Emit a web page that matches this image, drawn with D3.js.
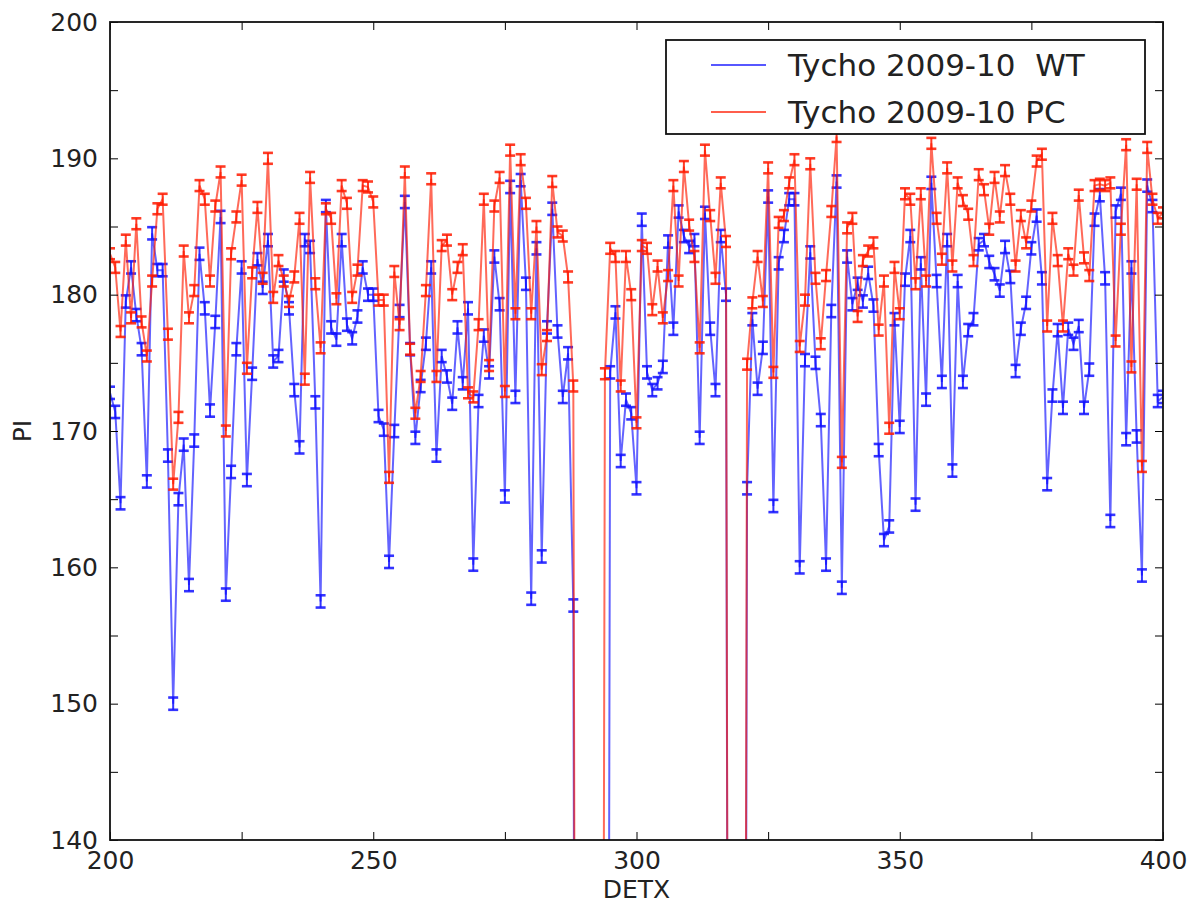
<!DOCTYPE html>
<html>
<head>
<meta charset="utf-8">
<script src="https://cdn.jsdelivr.net/npm/d3@7"></script>
<style>
  body { margin: 0; background: #fff; }
  svg text { font-family: "DejaVu Sans", sans-serif; }
</style>
</head>
<body>
<svg id="chart" width="1193" height="904"></svg>
<script>
// DETX channels 200..400
const detx = d3.range(200, 401);

// PI per DETX, WT mode (0 = no data)
const piWT = [
  172.8, 171.4, 164.7, 179.5, 182.0, 178.5, 176.0, 166.3, 184.5, 181.8,
  181.8, 168.2, 150.0, 165.0, 169.0, 158.7, 169.3, 183.0, 179.0, 171.5,
  178.0, 185.7, 158.0, 167.0, 176.0, 182.0, 166.4, 174.2, 182.6, 180.5,
  184.0, 175.1, 175.5, 181.4, 179.0, 173.0, 168.8, 184.0, 183.5, 172.1,
  157.5, 186.5, 177.6, 176.7, 184.0, 177.8, 176.8, 178.4, 182.0, 180.0,
  180.0, 171.1, 170.1, 160.4, 170.0, 178.8, 186.8, 176.0, 169.5, 173.3,
  176.4, 182.0, 168.2, 175.5, 174.0, 172.0, 177.6, 173.5, 179.0, 160.2,
  172.2, 177.0, 174.3, 182.8, 179.3, 165.2, 187.9, 172.5, 188.4, 180.8,
  157.7, 183.4, 160.8, 177.6, 186.3, 177.3, 172.5, 175.7, 157.2, 0,
  0, 0, 0, 0, 0, 174.3, 178.7, 167.8, 172.3, 171.3,
  165.8, 185.5, 174.3, 173.0, 173.5, 174.7, 183.9, 177.5, 186.1, 184.3,
  183.5, 184.0, 169.5, 186.0, 177.5, 173.0, 184.3, 180.0, 0, 0,
  0, 165.8, 178.2, 173.1, 176.1, 187.2, 164.5, 182.3, 184.3, 187.0,
  187.0, 160.0, 175.2, 183.1, 175.0, 170.8, 160.2, 178.8, 188.3, 158.5,
  182.8, 179.3, 180.8, 179.5, 181.6, 179.2, 168.6, 162.0, 163.0, 178.2,
  170.3, 181.1, 184.3, 164.6, 182.3, 172.3, 188.2, 181.0, 173.6, 184.0,
  167.1, 181.0, 173.6, 177.4, 178.2, 183.7, 184.0, 182.4, 181.5, 180.3,
  183.5, 181.3, 174.4, 177.5, 179.4, 183.4, 185.8, 181.2, 166.1, 172.6,
  177.4, 171.7, 177.5, 176.4, 177.7, 171.7, 174.5, 185.5, 187.3, 181.2,
  163.4, 186.1, 187.4, 169.4, 182.0, 169.6, 159.4, 188.0, 186.5, 172.2,
  172.5
];

// PI per DETX, PC mode (0 = no data)
const piPC = [
  183.0, 182.0, 177.3, 184.0, 178.3, 185.2, 178.0, 175.5, 181.0, 186.3,
  187.0, 177.1, 166.1, 171.0, 183.2, 178.3, 180.3, 188.0, 187.0, 181.0,
  186.5, 189.0, 170.0, 183.0, 185.7, 188.4, 174.6, 181.6, 186.4, 181.2,
  190.0, 179.8, 182.5, 181.0, 179.5, 181.3, 185.6, 173.8, 188.6, 180.8,
  176.1, 186.3, 185.6, 179.7, 188.0, 186.7, 179.8, 181.8, 188.0, 187.9,
  186.8, 179.6, 179.6, 166.6, 181.7, 177.8, 189.0, 176.0, 171.3, 174.0,
  180.3, 188.5, 174.0, 183.6, 184.0, 180.0, 182.0, 183.3, 172.8, 172.5,
  177.8, 187.0, 174.8, 186.5, 188.6, 172.9, 190.6, 178.6, 189.9, 186.7,
  178.6, 185.0, 174.5, 177.0, 188.3, 184.6, 184.3, 181.3, 173.3, 0,
  0, 0, 0, 0, 174.2, 183.4, 182.8, 173.3, 182.8, 180.0,
  170.6, 183.6, 183.4, 178.9, 182.1, 178.3, 181.4, 188.0, 181.0, 189.4,
  185.1, 182.8, 176.1, 190.6, 185.8, 181.2, 188.2, 183.9, 0, 0,
  0, 174.9, 179.4, 182.8, 179.5, 189.3, 174.3, 185.3, 185.8, 188.2,
  189.9, 176.2, 179.6, 189.6, 181.2, 176.4, 181.4, 186.1, 191.6, 167.7,
  184.9, 185.6, 178.4, 182.5, 183.2, 183.8, 177.4, 181.0, 170.2, 182.0,
  178.6, 187.4, 187.0, 180.8, 187.4, 181.0, 191.1, 185.6, 182.6, 189.3,
  182.1, 188.2, 186.9, 185.9, 182.5, 188.8, 187.7, 184.8, 188.6, 185.7,
  189.1, 187.0, 182.1, 185.8, 183.8, 186.5, 189.8, 190.3, 177.7, 185.6,
  182.5, 177.7, 183.0, 181.8, 187.3, 182.7, 181.4, 188.0, 188.1, 188.0,
  188.2, 176.6, 184.8, 191.0, 174.7, 188.1, 167.4, 190.8, 187.0, 185.6,
  186.0
];

// error bar half-widths
const errWT = 0.45;
const errPC = 0.4;

const seriesNames = ['Tycho 2009-10  WT', 'Tycho 2009-10 PC'];
const xTicks = [200, 225, 250, 275, 300, 325, 350, 375, 400];
const yTicks = [140, 145, 150, 155, 160, 165, 170, 175, 180, 185, 190, 195, 200];

////////////////////////////////////////////////////////
const margin = {top: 22, right: 30, bottom: 64, left: 110};
const width = 1193 - margin.left - margin.right;
const height = 904 - margin.top - margin.bottom;
const fontSize = 25;

const svg = d3.select('#chart');
svg.append('rect').attr('width', 1193).attr('height', 904).attr('fill', '#fff');

const g = svg.append('g')
    .attr('transform', 'translate(' + margin.left + ',' + margin.top + ')');

g.append('clipPath').attr('id', 'clip')
    .append('rect').attr('width', width).attr('height', height);

const x = d3.scaleLinear().domain([200, 400]).range([0, width]);
const y = d3.scaleLinear().domain([140, 200]).range([height, 0]);

const line = d3.line().x(d => x(d.x)).y(d => y(d.y));

function drawSeries(vals, err, color) {
    const pts = detx.map((d, i) => ({x: d, y: vals[i]}));
    const s = g.append('g').attr('clip-path', 'url(#clip)');

    s.append('path')
        .datum(pts)
        .attr('d', line)
        .attr('fill', 'none')
        .attr('stroke', color)
        .attr('stroke-width', 2)
        .attr('stroke-opacity', 0.65);

    // error bars with caps
    const ok = pts.filter(p => p.y > 0);
    const eb = s.append('g')
        .attr('stroke', color)
        .attr('stroke-opacity', 0.85);
    eb.selectAll('.ebar').data(ok).enter().append('line')
        .attr('x1', d => x(d.x)).attr('x2', d => x(d.x))
        .attr('y1', d => y(d.y - err)).attr('y2', d => y(d.y + err))
        .attr('stroke-width', 2);
    [-1, 1].forEach(sgn => {
        eb.selectAll('.cap' + sgn).data(ok).enter().append('line')
            .attr('x1', d => x(d.x) - 5).attr('x2', d => x(d.x) + 5)
            .attr('y1', d => y(d.y + sgn * err)).attr('y2', d => y(d.y + sgn * err))
            .attr('stroke-width', 2.6);
    });
}

drawSeries(piWT, errWT, '#1010ff');
drawSeries(piPC, errPC, '#ff1a00');

////////////////////////////////////////////////////////
// axes, ticks pointing inward on all four sides
function styleAxis(a) {
    a.attr('font-size', fontSize).attr('font-family', '"DejaVu Sans", sans-serif');
    a.select('.domain').remove();
    a.selectAll('.tick line').attr('stroke', '#000').attr('stroke-width', 1);
    a.selectAll('.tick text').attr('fill', '#222');
}

const fmtX = d => (d % 50 === 0 ? d : '');
const fmtY = d => (d % 10 === 0 ? d : '');

g.append('g').attr('transform', 'translate(0,' + height + ')')
    .call(d3.axisBottom(x).tickValues(xTicks).tickFormat(fmtX).tickSizeInner(-8).tickSizeOuter(0).tickPadding(11))
    .call(styleAxis);
g.append('g')
    .call(d3.axisTop(x).tickValues(xTicks).tickFormat('').tickSizeInner(-8).tickSizeOuter(0))
    .call(styleAxis);
g.append('g')
    .call(d3.axisLeft(y).tickValues(yTicks).tickFormat(fmtY).tickSizeInner(-8).tickSizeOuter(0).tickPadding(12))
    .call(styleAxis);
g.append('g').attr('transform', 'translate(' + width + ',0)')
    .call(d3.axisRight(y).tickValues(yTicks).tickFormat('').tickSizeInner(-8).tickSizeOuter(0))
    .call(styleAxis);

// frame
g.append('rect')
    .attr('width', width).attr('height', height)
    .attr('fill', 'none').attr('stroke', '#111').attr('stroke-width', 1.8);

// axis titles
svg.append('text')
    .attr('x', margin.left + width / 2).attr('y', 898)
    .attr('text-anchor', 'middle')
    .attr('font-size', fontSize).attr('fill', '#222')
    .text('DETX');
svg.append('text')
    .attr('transform', 'translate(31,' + (margin.top + height / 2) + ') rotate(-90)')
    .attr('text-anchor', 'middle')
    .attr('font-size', fontSize).attr('fill', '#222')
    .text('PI');

////////////////////////////////////////////////////////
// legend
const legend = svg.append('g').attr('transform', 'translate(666,40)');
legend.append('rect')
    .attr('width', 479).attr('height', 94)
    .attr('fill', '#fff').attr('stroke', '#111').attr('stroke-width', 1.8);
const legendColors = ['#1010ff', '#ff1a00'];
seriesNames.forEach((name, i) => {
    const yy = 25 + i * 47;
    legend.append('line')
        .attr('x1', 45).attr('x2', 100).attr('y1', yy).attr('y2', yy)
        .attr('stroke', legendColors[i]).attr('stroke-width', 2).attr('stroke-opacity', 0.7);
    legend.append('text')
        .attr('x', 122).attr('y', yy + 11)
        .attr('font-size', 31).attr('fill', '#222')
        .style('white-space', 'pre')
        .attr('xml:space', 'preserve')
        .text(name);
});
</script>
</body>
</html>
